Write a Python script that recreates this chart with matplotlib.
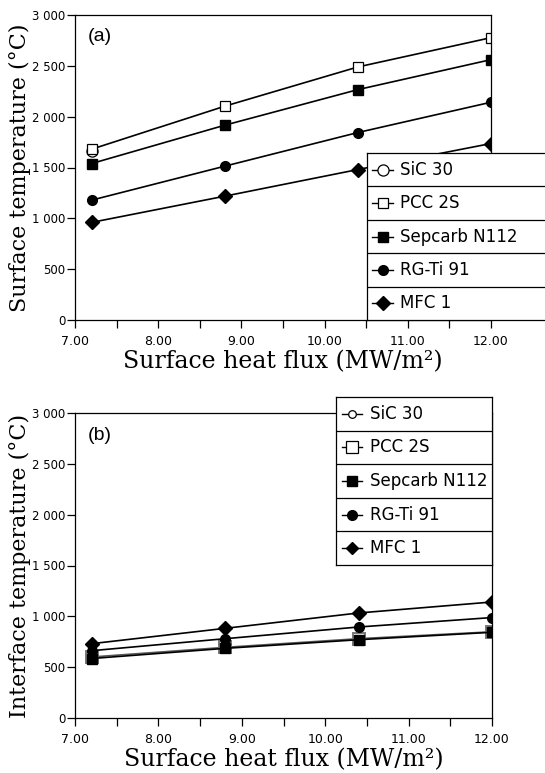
import matplotlib
matplotlib.use("Agg")
import matplotlib.pyplot as plt
from matplotlib.ticker import FixedLocator, FuncFormatter, MultipleLocator

# Heat flux levels (MW/m^2)
flux = [7.2, 8.8, 10.4, 12.0]

materials = ["SiC 30", "PCC 2S", "Sepcarb N112", "RG-Ti 91", "MFC 1"]

# (a) surface temperature, degC
surf_sic30 = [1665]
surf_pcc2s = [1680, 2103, 2489, 2777]
surf_sepcarb = [1539, 1916, 2266, 2561]
surf_rgti = [1179, 1513, 1844, 2142]
surf_mfc = [960, 1218, 1480, 1736]

# (b) interface temperature, degC
intf_sic30 = [600]
intf_pcc2s = [600, 695, 780, 848]
intf_sepcarb = [585, 685, 770, 843]
intf_rgti = [662, 780, 895, 988]
intf_mfc = [731, 882, 1033, 1141]

y_ticks = [0, 500, 1000, 1500, 2000, 2500, 3000]
x_ticks = [7.0, 8.0, 9.0, 10.0, 11.0, 12.0]

W, H = 545, 773
fig = plt.figure(figsize=(W / 100, H / 100), dpi=100)

SERIF = ["DejaVu Serif"]
SANS = ["DejaVu Sans"]
LEG = ["DejaVu Sans"]


def px_axes(left, top, right, bottom, **kw):
    return fig.add_axes([left / W, 1 - bottom / H, (right - left) / W, (bottom - top) / H], **kw)


def thousands(v, _):
    v = int(round(v))
    if v >= 1000:
        return f"{v // 1000} {v % 1000:03d}"
    return str(v)


def style_axes(ax, ylabel, tag, tag_y):
    ax.set_xlim(7.0, 12.0)
    ax.set_ylim(0, 3000)
    ax.xaxis.set_major_locator(FixedLocator(x_ticks))
    ax.xaxis.set_minor_locator(MultipleLocator(0.5))
    ax.xaxis.set_major_formatter(FuncFormatter(lambda v, _: f"{v:.2f}"))
    ax.yaxis.set_major_locator(FixedLocator(y_ticks))
    ax.yaxis.set_major_formatter(FuncFormatter(thousands))
    ax.tick_params(axis="both", which="both", direction="out", length=6, width=0.9,
                   labelsize=9, color="black")
    ax.tick_params(axis="x", which="major", pad=5)
    ax.tick_params(axis="y", labelsize=8.5, pad=1)
    for lbl in ax.get_xticklabels() + ax.get_yticklabels():
        lbl.set_fontfamily(SANS)
    for s in ax.spines.values():
        s.set_linewidth(0.9)
    ax.set_xlabel("Surface heat flux (MW/m²)", fontfamily=SERIF, fontsize=17)
    ax.xaxis.set_label_coords(0.5, -0.138)
    ax.xaxis.label.set_verticalalignment("center")
    ax.set_ylabel(ylabel, fontfamily=SERIF, fontsize=16)
    ax.yaxis.set_label_coords(-0.133, 0.5)
    ax.yaxis.label.set_verticalalignment("center")
    ax.text(0.06, tag_y, tag, transform=ax.transAxes, fontfamily=["Liberation Sans"], fontsize=14,
            ha="center", va="center")


def draw_legend(left, top, right, bottom, specs, hx0, hx1, tx):
    lax = px_axes(left, top, right, bottom, zorder=10)
    lax.set_xlim(0, right - left)
    lax.set_ylim(bottom - top, 0)
    lax.set_facecolor("white")
    lax.set_xticks([])
    lax.set_yticks([])
    for s in lax.spines.values():
        s.set_linewidth(0.9)
    rh = (bottom - top) / len(specs)
    for i, (name, mk) in enumerate(specs):
        yc = rh * (i + 0.5)
        if i > 0:
            lax.axhline(rh * i, color="black", lw=0.9)
        lax.plot([hx0, hx1], [yc, yc], color="black", lw=1.0)
        lax.plot([(hx0 + hx1) / 2], [yc], **mk)
        lax.text(tx, yc, name, fontfamily=LEG, fontsize=12, va="center", ha="left")


# ---------------- (a) ----------------
ax1 = px_axes(75, 15, 491, 320)
style_axes(ax1, "Surface temperature (°C)", "(a)", 0.93)
line_kw = dict(color="black", lw=1.2)
ax1.plot(flux[:len(surf_sic30)], surf_sic30, marker="o", ms=8, mfc="white", mec="black", mew=0.9, **line_kw)
ax1.plot(flux, surf_pcc2s, marker="s", ms=7, mfc="white", mec="black", mew=0.9, **line_kw)
ax1.plot(flux, surf_sepcarb, marker="s", ms=7, mfc="black", mec="black", **line_kw)
ax1.plot(flux, surf_rgti, marker="o", ms=7, mfc="black", mec="black", **line_kw)
ax1.plot(flux, surf_mfc, marker="D", ms=7, mfc="black", mec="black", **line_kw)

specs_a = [
    ("SiC 30", dict(marker="o", ms=8, mfc="white", mec="black", mew=0.9, ls="none")),
    ("PCC 2S", dict(marker="s", ms=6.5, mfc="white", mec="black", mew=0.9, ls="none")),
    ("Sepcarb N112", dict(marker="s", ms=7, mfc="black", mec="black", ls="none")),
    ("RG-Ti 91", dict(marker="o", ms=7, mfc="black", mec="black", ls="none")),
    ("MFC 1", dict(marker="D", ms=7, mfc="black", mec="black", ls="none")),
]
draw_legend(367, 153, 570, 320, specs_a, 5, 26, 33)

# ---------------- (b) ----------------
ax2 = px_axes(75, 413, 492, 718)
style_axes(ax2, "Interface temperature (°C)", "(b)", 0.925)
ax2.plot(flux[:len(intf_sic30)], intf_sic30, marker="o", ms=5, mfc="white", mec="black", mew=0.9, **line_kw)
ax2.plot(flux, intf_pcc2s, marker="s", ms=9, mfc="white", mec="#777777", mew=1.4, color="#555555", lw=1.2)
ax2.plot(flux, intf_sepcarb, marker="s", ms=6.5, mfc="black", mec="black", **line_kw)
ax2.plot(flux, intf_rgti, marker="o", ms=7, mfc="black", mec="black", **line_kw)
ax2.plot(flux, intf_mfc, marker="D", ms=7, mfc="black", mec="black", **line_kw)

specs_b = [
    ("SiC 30", dict(marker="o", ms=5.5, mfc="white", mec="black", mew=0.9, ls="none")),
    ("PCC 2S", dict(marker="s", ms=8, mfc="white", mec="black", mew=0.9, ls="none")),
    ("Sepcarb N112", dict(marker="s", ms=6.5, mfc="black", mec="black", ls="none")),
    ("RG-Ti 91", dict(marker="o", ms=7, mfc="black", mec="black", ls="none")),
    ("MFC 1", dict(marker="D", ms=6.5, mfc="black", mec="black", ls="none")),
]
draw_legend(336, 397, 492, 565, specs_b, 6, 26, 34)

fig.savefig("out.png", dpi=100)
